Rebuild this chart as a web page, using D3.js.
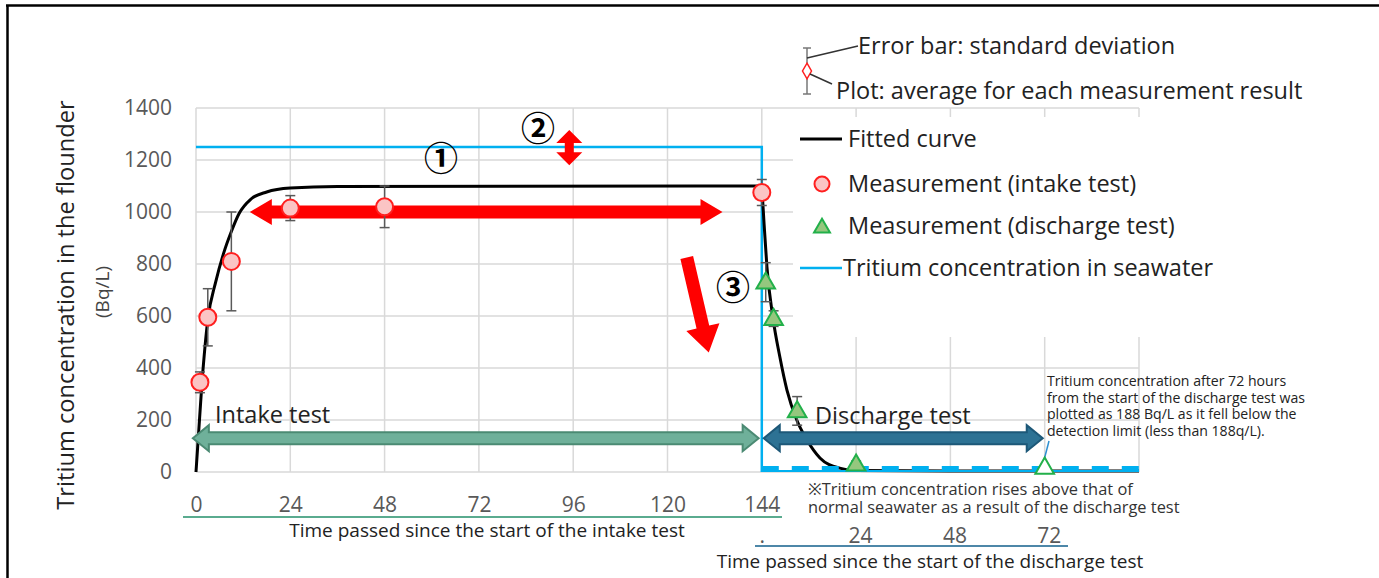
<!DOCTYPE html>
<html>
<head>
<meta charset="utf-8">
<script src="https://cdn.jsdelivr.net/npm/d3@7"></script>
<style>
  body { margin: 0; background: #fff; }
  svg text { font-family: "Open Sans", "Noto Sans", sans-serif; }
</style>
</head>
<body>
<div id="chart"></div>
<script>
// ticks
const hourTicks = [0, 24, 48, 72, 96, 120, 144];
const dischargeTicks = [0, 24, 48, 72];
const yTickValues = [0, 200, 400, 600, 800, 1000, 1200, 1400];

// measurements (hours, mean, standard deviation)
const intakeHours = [1, 3, 9, 24, 48, 144];
const intakeMean = [345, 595, 810, 1015, 1020, 1075];
const intakeSd = [40, 110, 190, 48, 80, 50];

const dischargeHours = [1, 3, 9, 24, 72];
const dischargeMean = [730, 590, 235, 30, 18];
const dischargeSd = [75, 30, 55, 12, 0];

// fitted curve
const fitIntakeHours = [0, 1.5, 3, 5, 7, 9, 11, 14, 18, 24, 36, 144];
const fitIntakeValue = [0, 340, 585, 730, 840, 925, 995, 1050, 1077, 1092, 1098, 1100];
const fitDischargeHours = [0, 0.6, 1.3, 2.8, 4.6, 6.4, 8.9, 11.5, 14.8, 19.8, 24, 48, 96];
const fitDischargeValue = [1100, 950, 790, 596, 442, 315, 200, 123, 54, 15, 6, 4, 4];

// seawater concentration
const seaIntakeHours = [0, 144];
const seaIntakeValue = [1250, 1250];
const seaDischargeHours = [0, 96];
const seaDischargeValue = [12, 12];

const W = 1379, H = 578;
const svg = d3.select("#chart").append("svg").attr("width", W).attr("height", H);

// frame
svg.append("line").attr("x1", 6).attr("x2", W).attr("y1", 5.5).attr("y2", 5.5)
  .attr("stroke", "#000").attr("stroke-width", 2.5);
svg.append("line").attr("x1", 7.5).attr("x2", 7.5).attr("y1", 5).attr("y2", H)
  .attr("stroke", "#000").attr("stroke-width", 2.5);

//escalas
const x = d3.scaleLinear().domain([0, 240]).range([196, 1139]);
const y = d3.scaleLinear().domain([0, 1400]).range([472, 108]);
const xd = h => x(h + 144); // discharge hours

// grid
const g = svg.append("g");
d3.range(0, 241, 24).forEach(h => {
  g.append("line").attr("x1", x(h)).attr("x2", x(h)).attr("y1", y(0)).attr("y2", y(1400))
    .attr("stroke", "#d9d9d9").attr("stroke-width", 1.5);
});
yTickValues.forEach(v => {
  g.append("line").attr("x1", x(0)).attr("x2", x(240)).attr("y1", y(v)).attr("y2", y(v))
    .attr("stroke", "#d9d9d9").attr("stroke-width", 1.5);
});

// legend background hides the grid
svg.append("rect").attr("x", 793).attr("y", 117).attr("width", 360).attr("height", 220).attr("fill", "#fff");

// y axis
const yAxis = svg.append("g").attr("transform", `translate(${x(0)},0)`)
  .call(d3.axisLeft(y).tickValues(yTickValues).tickSize(0).tickPadding(24).tickFormat(d3.format("d")));
yAxis.select(".domain").remove();
yAxis.selectAll("text").style("font-size", "21px").attr("fill", "#595959")
  .style("font-family", "'Open Sans', sans-serif");

svg.append("text").attr("transform", "translate(74,305) rotate(-90)")
  .attr("text-anchor", "middle").style("font-size", "23.7px").attr("fill", "#222")
  .text("Tritium concentration in the flounder");
svg.append("text").attr("transform", "translate(109,292) rotate(-90)")
  .attr("text-anchor", "middle").style("font-size", "19px").attr("fill", "#444")
  .text("(Bq/L)");

// x axis (intake)
const xAxis = svg.append("g").attr("transform", "translate(0,497)")
  .call(d3.axisBottom(x).tickValues(hourTicks).tickSize(0).tickPadding(0));
xAxis.select(".domain").remove();
xAxis.selectAll("text").style("font-size", "21px").attr("fill", "#595959")
  .style("font-family", "'Open Sans', sans-serif");
svg.append("line").attr("x1", 183).attr("x2", 782).attr("y1", 517).attr("y2", 517)
  .attr("stroke", "#5aab8f").attr("stroke-width", 2);
svg.append("text").attr("x", 487).attr("y", 537).attr("text-anchor", "middle")
  .style("font-size", "19px").attr("fill", "#222")
  .text("Time passed since the start of the intake test");

// x axis (discharge)
const xAxis2 = svg.append("g").attr("transform", "translate(0,528)")
  .call(d3.axisBottom(d3.scaleLinear().domain([0, 96]).range([x(144), x(240)]))
    .tickValues(dischargeTicks).tickSize(0).tickPadding(0)
    .tickFormat(d => d === 0 ? "." : d));
xAxis2.select(".domain").remove();
xAxis2.selectAll("text").style("font-size", "21px").attr("fill", "#595959")
  .style("font-family", "'Open Sans', sans-serif")
  .attr("dx", d => d === 0 ? 0 : 4);
svg.append("line").attr("x1", 755).attr("x2", 1068).attr("y1", 546).attr("y2", 546)
  .attr("stroke", "#4d87a8").attr("stroke-width", 2);
svg.append("text").attr("x", 930).attr("y", 568).attr("text-anchor", "middle")
  .style("font-size", "19px").attr("fill", "#222")
  .text("Time passed since the start of the discharge test");

const note = svg.append("text").style("font-size", "16.4px").attr("fill", "#333");
note.append("tspan").attr("x", 808).attr("y", 495).text("※Tritium concentration rises above that of");
note.append("tspan").attr("x", 808).attr("y", 513).text("normal seawater as a result of the discharge test");

// seawater line
const line = d3.line().x(d => d[0]).y(d => d[1]);
const seaIntake = seaIntakeHours.map((h, i) => [x(h), y(seaIntakeValue[i])]);
seaIntake.push([x(144), y(0)]);
svg.append("path").datum(seaIntake).attr("d", line).attr("fill", "none")
  .attr("stroke", "#00b0f0").attr("stroke-width", 2.5);

// fitted curve
const curve = d3.line().x(d => d[0]).y(d => d[1]).curve(d3.curveMonotoneX);
svg.append("path")
  .datum(fitIntakeHours.map((h, i) => [x(h), y(fitIntakeValue[i])]))
  .attr("d", curve).attr("fill", "none").attr("stroke", "#000").attr("stroke-width", 3);
svg.append("path")
  .datum(fitDischargeHours.map((h, i) => [xd(h), y(fitDischargeValue[i])]))
  .attr("d", curve).attr("fill", "none").attr("stroke", "#000").attr("stroke-width", 3);

// seawater during discharge (dashed)
svg.append("line").attr("x1", xd(0)).attr("x2", x(240)).attr("y1", y(0) - 1).attr("y2", y(0) - 1)
  .attr("stroke", "#00b0f0").attr("stroke-width", 2);
svg.append("path")
  .datum(seaDischargeHours.map((h, i) => [xd(h), y(seaDischargeValue[i])]))
  .attr("d", line).attr("fill", "none")
  .attr("stroke", "#00b0f0").attr("stroke-width", 6).attr("stroke-dasharray", "17,13");

// arrows (polygon along a direction)
function arrow(x1, y1, x2, y2, body, head, headLen, both) {
  const dx = x2 - x1, dy = y2 - y1, L = Math.hypot(dx, dy);
  const ux = dx / L, uy = dy / L, nx = -uy, ny = ux;
  const p = (t, n) => [x1 + ux * t + nx * n, y1 + uy * t + ny * n];
  const s = both ? headLen : 0;
  const pts = [p(s, body / 2), p(L - headLen, body / 2), p(L - headLen, head / 2), p(L, 0),
    p(L - headLen, -head / 2), p(L - headLen, -body / 2), p(s, -body / 2)];
  if (both) pts.push(p(headLen, -head / 2), p(0, 0), p(headLen, head / 2));
  return "M" + pts.map(q => q.join(",")).join("L") + "Z";
}

const arrowY = y(130);
svg.append("path").attr("d", arrow(x(-0.8), arrowY, x(143.2), arrowY, 12, 26, 16, true))
  .attr("fill", "#6fb09a").attr("stroke", "#4b8a73").attr("stroke-width", 2);
svg.append("path").attr("d", arrow(xd(0.5), arrowY, xd(71.5), arrowY, 12, 26, 16, true))
  .attr("fill", "#2d7294").attr("stroke", "#1d5878").attr("stroke-width", 2);

svg.append("path").attr("d", arrow(x(13.7), y(1000), x(134), y(1000), 13, 26, 22, true)).attr("fill", "#ff0000");
svg.append("path").attr("d", arrow(x(95), y(1315), x(95), y(1180), 9, 26, 13, true)).attr("fill", "#ff0000");
svg.append("path").attr("d", arrow(x(124.9), y(825), x(130.5), y(460), 13, 34, 26, false)).attr("fill", "#ff0000");

svg.append("text").attr("x", 215).attr("y", 423).style("font-size", "23.5px").attr("fill", "#222").text("Intake test");
svg.append("text").attr("x", 815).attr("y", 424).style("font-size", "23.5px").attr("fill", "#222").text("Discharge test");

[["①", 441, 171], ["②", 538, 141], ["③", 733, 300]].forEach(d => {
  svg.append("text").attr("x", d[1]).attr("y", d[2]).attr("text-anchor", "middle")
    .style("font-family", "'Noto Sans CJK JP', 'DejaVu Sans', sans-serif").style("font-size", "34px")
    .style("font-weight", "bold").attr("fill", "#000").text(d[0]);
});

// error bars
function errorBars(hours, mean, sd, fx) {
  hours.forEach((h, i) => {
    if (!sd[i]) return;
    const cx = fx(h), top = y(mean[i] + sd[i]), bot = y(mean[i] - sd[i]);
    svg.append("line").attr("x1", cx).attr("x2", cx).attr("y1", top).attr("y2", bot)
      .attr("stroke", "#595959").attr("stroke-width", 1.5);
    [top, bot].forEach(v => svg.append("line").attr("x1", cx - 5).attr("x2", cx + 5)
      .attr("y1", v).attr("y2", v).attr("stroke", "#595959").attr("stroke-width", 1.5));
  });
}
errorBars(intakeHours, intakeMean, intakeSd, x);
errorBars(dischargeHours, dischargeMean, dischargeSd, xd);

// leader line of the 72 h note
svg.append("line").attr("x1", 1049).attr("x2", 1043).attr("y1", 441).attr("y2", 464)
  .attr("stroke", "#2f8fd0").attr("stroke-width", 1.5);

// intake points
svg.selectAll(".intake").data(intakeHours).enter().append("circle")
  .attr("class", "intake")
  .attr("cx", d => x(d)).attr("cy", (d, i) => y(intakeMean[i])).attr("r", 8.5)
  .attr("fill", "#fbc4c4").attr("stroke", "#ff1f1f").attr("stroke-width", 2);

// discharge points
const tri = d3.symbol().type(d3.symbolTriangle).size(150);
svg.selectAll(".discharge").data(dischargeHours).enter().append("path")
  .attr("class", "discharge")
  .attr("d", tri)
  .attr("transform", (d, i) => `translate(${xd(d)},${y(dischargeMean[i]) + 1})`)
  .attr("fill", (d, i) => i === dischargeHours.length - 1 ? "#fff" : "#95c77e")
  .attr("stroke", "#22b04a").attr("stroke-width", 2);

// note about 72 h
const note2 = svg.append("text").style("font-size", "14.1px").attr("fill", "#222");
["Tritium concentration after 72 hours", "from the start of the discharge test was",
  "plotted as 188 Bq/L as it fell below the", "detection limit (less than 188q/L)."]
  .forEach((t, i) => note2.append("tspan").attr("x", 1047).attr("y", 386 + i * 16.7).text(t));

// legend
const lg = svg.append("g");
lg.append("line").attr("x1", 807).attr("x2", 807).attr("y1", 48).attr("y2", 94).attr("stroke", "#777").attr("stroke-width", 1.5);
[48, 94].forEach(v => lg.append("line").attr("x1", 803).attr("x2", 811).attr("y1", v).attr("y2", v).attr("stroke", "#777").attr("stroke-width", 1.5));
lg.append("path").attr("d", d3.symbol().type(d3.symbolDiamond).size(70))
  .attr("transform", "translate(807,71)").attr("fill", "#fff").attr("stroke", "#ff1f1f").attr("stroke-width", 1.5);
lg.append("line").attr("x1", 807).attr("x2", 858).attr("y1", 58).attr("y2", 46).attr("stroke", "#333").attr("stroke-width", 1.5);
lg.append("line").attr("x1", 810).attr("x2", 832).attr("y1", 74).attr("y2", 84).attr("stroke", "#333").attr("stroke-width", 1.5);
const fs = "23.5px";
lg.append("text").attr("x", 858).attr("y", 54).style("font-size", fs).attr("fill", "#222").text("Error bar: standard deviation");
lg.append("text").attr("x", 836).attr("y", 99).style("font-size", fs).attr("fill", "#222").text("Plot: average for each measurement result");

lg.append("line").attr("x1", 800).attr("x2", 842).attr("y1", 139).attr("y2", 139).attr("stroke", "#000").attr("stroke-width", 3);
lg.append("text").attr("x", 848).attr("y", 147).style("font-size", fs).attr("fill", "#222").text("Fitted curve");
lg.append("circle").attr("cx", 822).attr("cy", 184).attr("r", 7.5).attr("fill", "#fbc4c4").attr("stroke", "#ff1f1f").attr("stroke-width", 2);
lg.append("text").attr("x", 848).attr("y", 192).style("font-size", fs).attr("fill", "#222").text("Measurement (intake test)");
lg.append("path").attr("d", d3.symbol().type(d3.symbolTriangle).size(110))
  .attr("transform", "translate(822,228)").attr("fill", "#95c77e").attr("stroke", "#22b04a").attr("stroke-width", 2);
lg.append("text").attr("x", 848).attr("y", 234).style("font-size", fs).attr("fill", "#222").text("Measurement (discharge test)");
lg.append("line").attr("x1", 800).attr("x2", 842).attr("y1", 268).attr("y2", 268).attr("stroke", "#00b0f0").attr("stroke-width", 2.5);
lg.append("text").attr("x", 843).attr("y", 276).style("font-size", fs).attr("fill", "#222").text("Tritium concentration in seawater");
</script>
</body>
</html>
